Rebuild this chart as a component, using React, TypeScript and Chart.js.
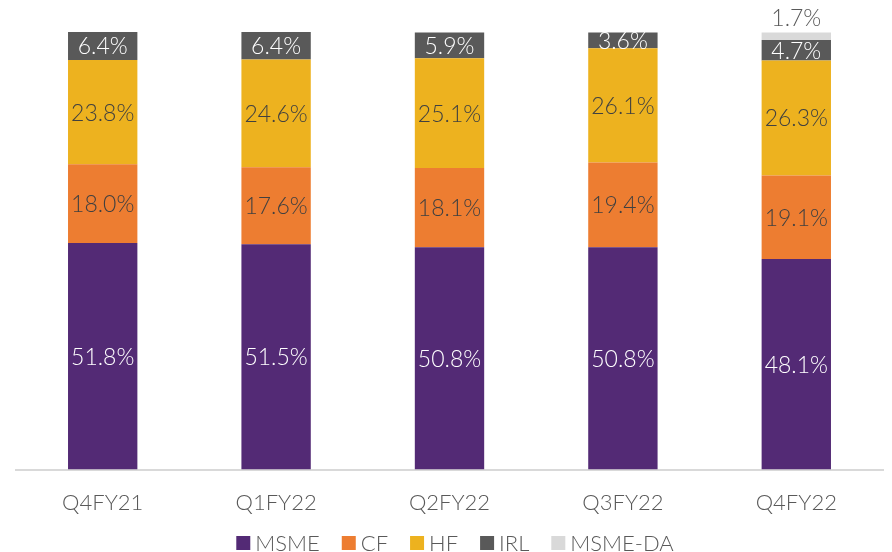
import React, { useEffect, useRef } from "react";
import { Chart, registerables } from "chart.js";

Chart.register(...registerables);

const categories = ["Q4FY21", "Q1FY22", "Q2FY22", "Q3FY22", "Q4FY22"];
const msme = [51.8, 51.5, 50.8, 50.8, 48.1];
const cf = [18.0, 17.6, 18.1, 19.4, 19.1];
const hf = [23.8, 24.6, 25.1, 26.1, 26.3];
const irl = [6.4, 6.4, 5.9, 3.6, 4.7];
const msmeDa = [null, null, null, null, 1.7];

const FONT = "Lato, 'Open Sans', sans-serif";

const labelPlugin = {
  id: "segLabels",
  afterDatasetsDraw(chart: any) {
    const ctx = chart.ctx;
    ctx.save();
    ctx.font = `300 23px ${FONT}`;
    ctx.textAlign = "center";
    chart.data.datasets.forEach((ds: any, di: number) => {
      const meta = chart.getDatasetMeta(di);
      if (meta.hidden) return;
      meta.data.forEach((el: any, i: number) => {
        const v = ds.data[i];
        if (v === null || v === undefined) return;
        const txt = v.toFixed(1) + "%";
        ctx.fillStyle = ds.labelColor;
        if (ds.labelPos === "top") {
          ctx.textBaseline = "bottom";
          ctx.fillText(txt, el.x, el.y - 2);
        } else {
          ctx.textBaseline = "middle";
          ctx.fillText(txt, el.x, (el.y + el.base) / 2 + 1);
        }
      });
    });
    ctx.restore();
  },
};

const legendPlugin = {
  id: "customLegend",
  afterDraw(chart: any) {
    const ctx = chart.ctx;
    ctx.save();
    ctx.font = `300 22px ${FONT}`;
    ctx.textBaseline = "middle";
    ctx.textAlign = "left";
    const box = 14;
    const gapBoxText = 5;
    const gapItems = 22;
    const items = chart.data.datasets.map((ds: any) => ({
      label: ds.label,
      color: ds.backgroundColor,
      w: ctx.measureText(ds.label).width,
    }));
    const total = items.reduce((s: number, it: any) => s + box + gapBoxText + it.w, 0) + gapItems * (items.length - 1);
    let x = 455 - total / 2;
    const cy = 543;
    items.forEach((it: any) => {
      ctx.fillStyle = it.color;
      ctx.fillRect(x, cy - box / 2, box, box);
      x += box + gapBoxText;
      ctx.fillStyle = "#595959";
      ctx.fillText(it.label, x, cy + 1);
      x += it.w + gapItems;
    });
    ctx.restore();
  },
};

export default function App() {
  const ref = useRef<HTMLCanvasElement>(null);
  useEffect(() => {
    document.body.style.margin = "0";
    const mk = (label: string, data: any[], color: string, labelColor: string, labelPos = "center") => ({
      label,
      data,
      backgroundColor: color,
      borderWidth: 0,
      labelColor,
      labelPos,
    });
    const chart = new Chart(ref.current!, {
      type: "bar",
      data: {
        labels: categories,
        datasets: [
          mk("MSME", msme, "#532A75", "#FFFFFF"),
          mk("CF", cf, "#ED7D31", "#404040"),
          mk("HF", hf, "#EDB21F", "#404040"),
          mk("IRL", irl, "#595959", "#FFFFFF"),
          mk("MSME-DA", msmeDa, "#D9D9D9", "#595959", "top"),
        ] as any,
      },
      options: {
        animation: false,
        responsive: true,
        maintainAspectRatio: false,
        layout: { padding: { top: 32, left: 16, right: 9, bottom: 24 } },
        datasets: { bar: { categoryPercentage: 1, barPercentage: 0.4 } },
        scales: {
          x: {
            stacked: true,
            grid: { display: false },
            border: { display: true, color: "#D9D9D9", width: 2 },
            ticks: { color: "#595959", font: { family: FONT, size: 22, weight: "300" }, padding: 12 },
          },
          y: {
            stacked: true,
            display: false,
            min: 0,
            max: 100,
          },
        },
        plugins: {
          legend: { display: false },
          tooltip: { enabled: false },
        },
      },
      plugins: [labelPlugin, legendPlugin],
    });
    return () => chart.destroy();
  }, []);
  return (
    <div style={{ width: 892, height: 552, position: "relative" }}>
      <canvas ref={ref} />
    </div>
  );
}
